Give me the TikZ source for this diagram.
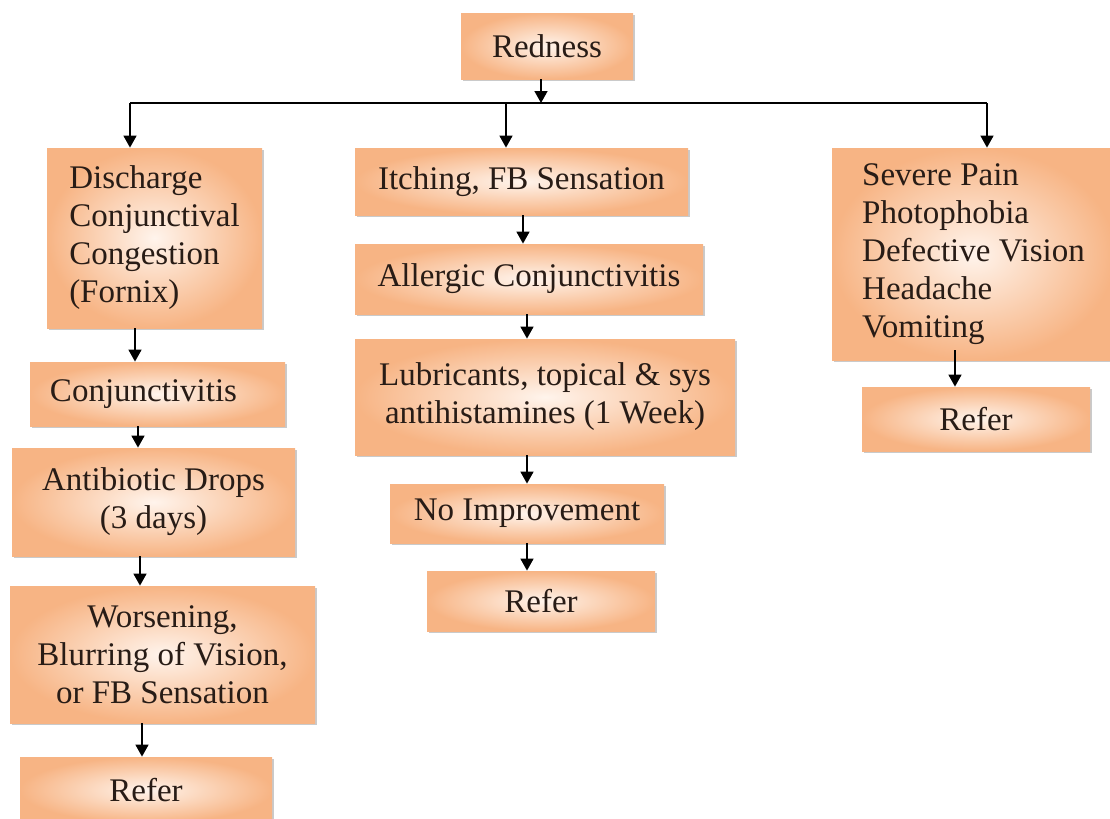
\documentclass[tikz,border=0pt]{standalone}
\usepackage{fontspec}
\setmainfont{Liberation Serif}
\usepackage{tikz}
\usetikzlibrary{arrows.meta,shadows}
\definecolor{peach}{RGB}{247,180,132}
\definecolor{peachlight}{RGB}{255,244,236}
\definecolor{inkbrown}{RGB}{40,28,22}

\begin{document}
\begin{tikzpicture}[x=0.5pt,y=-0.5pt,
  font=\fontsize{16.5}{19}\selectfont,
  box/.style={inner color=peachlight,outer color=peach,inner sep=0pt,align=center,
    text=inkbrown,
    drop shadow={shadow xshift=1.2pt,shadow yshift=-1.2pt,fill=gray!70,opacity=.6}},
  flow/.style={-{Triangle[length=6pt,width=6.5pt]},line width=0.8pt}]
\useasboundingbox (0,0) rectangle (1110,819);
% --- top node and the branch line ---
\node[box,minimum width=86pt,minimum height=33pt] (red) at (547,46) {Redness};
\coordinate (bus) at (541,103);
\coordinate (busL) at (130,103);
\coordinate (busM) at (506,103);
\coordinate (busR) at (987,103);
% --- left column ---
\node[box,align=left,minimum width=107.5pt,minimum height=90pt] (dis) at (154.5,238)
  {Discharge\\Conjunctival\\Congestion\\(Fornix)};
\node[box,minimum width=127.5pt,minimum height=32pt] (conj) at (157.5,394)
  {\hspace*{-14pt}Conjunctivitis};
\node[box,minimum width=141.5pt,minimum height=54pt] (anti) at (153.5,502)
  {Antibiotic Drops\\(3 days)};
\node[box,minimum width=152.5pt,minimum height=68.5pt] (worse) at (162.5,654.5)
  {Worsening,\\Blurring of Vision,\\or FB Sensation};
\node[box,minimum width=126pt,minimum height=33pt] (refL) at (146,790) {Refer};
% --- middle column ---
\node[box,minimum width=166.5pt,minimum height=33.5pt] (itch) at (521.5,181.5)
  {Itching, FB Sensation};
\node[box,minimum width=174pt,minimum height=35pt] (allg) at (529,279)
  {Allergic Conjunctivitis};
\node[box,minimum width=190pt,minimum height=58pt] (lub) at (545,397)
  {Lubricants, topical \& sys\\antihistamines (1 Week)};
\node[box,minimum width=137pt,minimum height=29.5pt] (noimp) at (527,513.5)
  {No Improvement};
\node[box,minimum width=114pt,minimum height=30pt] (refM) at (541,601) {Refer};
% --- right column ---
\node[box,align=left,minimum width=141.5pt,minimum height=106pt] (pain) at (973.5,254)
  {Severe Pain\\Photophobia\\Defective Vision\\Headache\\Vomiting};
\node[box,minimum width=114pt,minimum height=32pt] (refR) at (976,419) {Refer};
% --- connectors ---
\draw[flow] (red.south -| bus) -- (bus);
\draw[line width=0.8pt] (busL) -- (busR);
\draw[flow] (busL) -- (busL |- dis.north);
\draw[flow] (busM) -- (busM |- itch.north);
\draw[flow] (busR) -- (busR |- pain.north);
\draw[flow] (dis.south -| 135,0) -- (conj.north -| 135,0);
\draw[flow] (conj.south -| 138,0) -- (anti.north -| 138,0);
\draw[flow] (anti.south -| 140,0) -- (worse.north -| 140,0);
\draw[flow] (worse.south -| 142,0) -- (refL.north -| 142,0);
\draw[flow] (itch.south -| 523,0) -- (allg.north -| 523,0);
\draw[flow] (allg.south -| 527,0) -- (lub.north -| 527,0);
\draw[flow] (lub.south -| 527,0) -- (noimp.north -| 527,0);
\draw[flow] (noimp.south -| 527,0) -- (refM.north -| 527,0);
\draw[flow] ([yshift=5pt]pain.south -| 955,0) -- (refR.north -| 955,0);
\end{tikzpicture}
\end{document}
